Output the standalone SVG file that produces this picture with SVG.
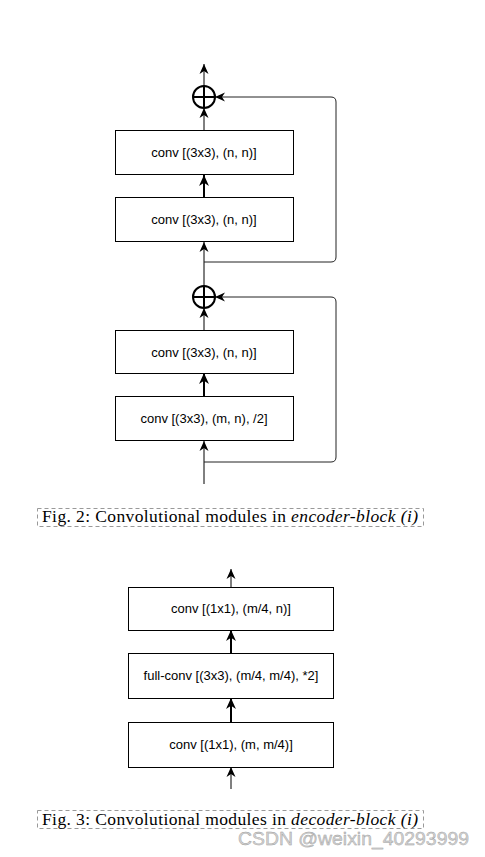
<svg xmlns="http://www.w3.org/2000/svg" width="485" height="857" viewBox="0 0 485 857">
<style>
.box{fill:#fff;stroke:#000;stroke-width:1}
.lbl{font-family:"Liberation Sans",Arial,sans-serif;font-size:13px;fill:#000;text-anchor:middle}
.thin{fill:none;stroke:#000;stroke-width:1}
.thick{fill:none;stroke:#000;stroke-width:2}
.loop{fill:none;stroke:#222;stroke-width:1}
.sum{fill:none;stroke:#000;stroke-width:2}
.cap{font-family:"Liberation Serif","Times New Roman",serif;font-size:17.5px;fill:#000}
.dash{fill:none;stroke:#999;stroke-width:1;stroke-dasharray:4 3}
</style>
<defs>
<marker id="ah" viewBox="0 0 10 10" refX="10" refY="5" markerWidth="10" markerHeight="10" markerUnits="userSpaceOnUse" orient="auto">
<path d="M0,0.5 L10,5 L0,9.5 L3,5 Z" fill="#000"/>
</marker>
<marker id="ah2" viewBox="0 0 10 10" refX="10" refY="5" markerWidth="11" markerHeight="11" markerUnits="userSpaceOnUse" orient="auto">
<path d="M0,0.5 L10,5 L0,9.5 L3,5 Z" fill="#000"/>
</marker>
</defs>
<rect width="485" height="857" fill="#fff"/>
<g id="connectors">
<line class="thin" x1="204" y1="86" x2="204" y2="64" marker-end="url(#ah)"/>
<line class="thin" x1="204" y1="130" x2="204" y2="108" marker-end="url(#ah)"/>
<line class="thick" x1="204" y1="197" x2="204" y2="175" marker-end="url(#ah2)"/>
<line class="thin" x1="204" y1="286" x2="204" y2="242" marker-end="url(#ah)"/>
<path class="loop" d="M204,262 H331 Q336,262 336,257 V102 Q336,97 331,97 H215" marker-end="url(#ah)"/>
<line class="thin" x1="204" y1="330" x2="204" y2="308" marker-end="url(#ah)"/>
<line class="thick" x1="204" y1="396" x2="204" y2="373" marker-end="url(#ah2)"/>
<line class="thin" x1="204" y1="484" x2="204" y2="441" marker-end="url(#ah)"/>
<path class="loop" d="M204,462 H331 Q336,462 336,457 V302 Q336,297 331,297 H215" marker-end="url(#ah)"/>
<line class="thin" x1="231" y1="587" x2="231" y2="569" marker-end="url(#ah)"/>
<line class="thick" x1="231" y1="653" x2="231" y2="630" marker-end="url(#ah2)"/>
<line class="thick" x1="231" y1="722" x2="231" y2="698" marker-end="url(#ah2)"/>
<line class="thin" x1="231" y1="789" x2="231" y2="767" marker-end="url(#ah)"/>
</g>
<g id="sum1">
<circle class="sum" cx="204" cy="97" r="11"/>
<line class="sum" x1="193" y1="97" x2="215" y2="97"/>
<line class="sum" x1="204" y1="86" x2="204" y2="108"/>
</g>
<g id="sum2">
<circle class="sum" cx="204" cy="297" r="11"/>
<line class="sum" x1="193" y1="297" x2="215" y2="297"/>
<line class="sum" x1="204" y1="286" x2="204" y2="308"/>
</g>
<g id="enc1">
<rect class="box" x="115.5" y="130.5" width="178" height="44"/>
<text class="lbl" x="204" y="157">conv [(3x3), (n, n)]</text>
</g>
<g id="enc2">
<rect class="box" x="115.5" y="197.5" width="178" height="44"/>
<text class="lbl" x="204" y="224">conv [(3x3), (n, n)]</text>
</g>
<g id="enc3">
<rect class="box" x="115.5" y="330.5" width="178" height="43"/>
<text class="lbl" x="204" y="357">conv [(3x3), (n, n)]</text>
</g>
<g id="enc4">
<rect class="box" x="115.5" y="396.5" width="178" height="44"/>
<text class="lbl" x="204" y="423">conv [(3x3), (m, n), /2]</text>
</g>
<g id="cap1">
<rect class="dash" x="37.5" y="508.5" width="386" height="18"/>
<text class="cap" x="42" y="522" textLength="376" lengthAdjust="spacing">Fig. 2: Convolutional modules in <tspan font-style="italic">encoder-block (i)</tspan></text>
</g>
<g id="dec1">
<rect class="box" x="128.5" y="587.5" width="205" height="43"/>
<text class="lbl" x="231" y="613">conv [(1x1), (m/4, n)]</text>
</g>
<g id="dec2">
<rect class="box" x="128.5" y="653.5" width="205" height="45"/>
<text class="lbl" x="231" y="680">full-conv [(3x3), (m/4, m/4), *2]</text>
</g>
<g id="dec3">
<rect class="box" x="128.5" y="722.5" width="205" height="45"/>
<text class="lbl" x="231" y="749">conv [(1x1), (m, m/4)]</text>
</g>
<g id="cap2">
<rect class="dash" x="37.5" y="810.5" width="386" height="18"/>
<text class="cap" x="42" y="825" textLength="376" lengthAdjust="spacing">Fig. 3: Convolutional modules in <tspan font-style="italic">decoder-block (i)</tspan></text>
</g>
<text x="238" y="845" font-family="'Liberation Sans',Arial,sans-serif" font-size="18.5" fill="#d4d4d4" stroke="#999" stroke-width="0.4" textLength="231" lengthAdjust="spacingAndGlyphs">CSDN @weixin_40293999</text>
</svg>
